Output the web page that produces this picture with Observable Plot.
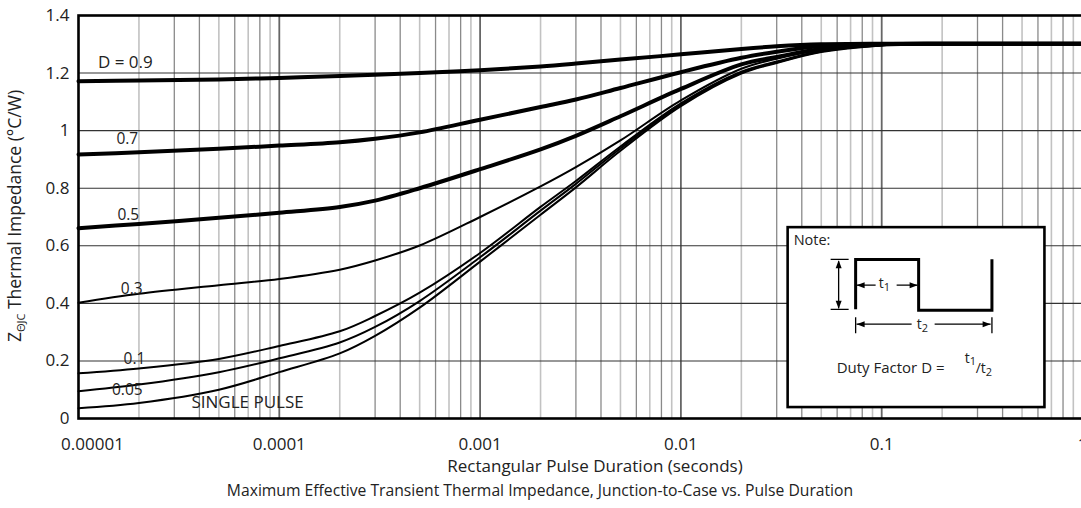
<!DOCTYPE html>
<html>
<head>
<meta charset="utf-8">
<script src="https://cdn.jsdelivr.net/npm/d3@7"></script>
<script src="https://cdn.jsdelivr.net/npm/@observablehq/plot@0.6"></script>
<style>
  html, body { margin: 0; padding: 0; background: #fff; overflow: hidden; }
  #chart svg { display: block; max-width: none !important; width: 1084px; height: 508px !important; }
</style>
</head>
<body>
<div id="chart"></div>
<script>
// ---- Data ----
const durations = [1e-5, 2e-5, 5e-5, 1e-4, 2e-4, 3e-4, 5e-4, 1e-3, 2e-3, 3e-3, 5e-3, 1e-2, 2e-2, 3e-2, 5e-2, 0.1, 0.2, 0.5, 1];

const seriesNames = ["D = 0.9", "0.7", "0.5", "0.3", "0.1", "0.05", "SINGLE PULSE"];
const thickSeries = ["D = 0.9", "0.7", "0.5"];

const zD09    = [1.172, 1.174, 1.178, 1.183, 1.190, 1.194, 1.200, 1.210, 1.223, 1.233, 1.247, 1.265, 1.284, 1.293, 1.300, 1.302, 1.302, 1.302, 1.302];
const zD07    = [0.917, 0.925, 0.937, 0.948, 0.960, 0.972, 0.994, 1.038, 1.082, 1.108, 1.148, 1.203, 1.253, 1.274, 1.294, 1.301, 1.302, 1.302, 1.302];
const zD05    = [0.661, 0.676, 0.697, 0.715, 0.735, 0.757, 0.800, 0.866, 0.935, 0.982, 1.050, 1.145, 1.230, 1.256, 1.284, 1.299, 1.302, 1.302, 1.302];
const zD03    = [0.402, 0.433, 0.463, 0.485, 0.517, 0.549, 0.601, 0.700, 0.806, 0.873, 0.966, 1.105, 1.215, 1.250, 1.280, 1.297, 1.302, 1.302, 1.302];
const zD01    = [0.157, 0.174, 0.207, 0.252, 0.303, 0.356, 0.437, 0.575, 0.735, 0.825, 0.945, 1.095, 1.205, 1.240, 1.277, 1.298, 1.302, 1.302, 1.302];
const zD005   = [0.095, 0.118, 0.161, 0.209, 0.264, 0.318, 0.408, 0.560, 0.722, 0.815, 0.938, 1.090, 1.201, 1.237, 1.275, 1.297, 1.302, 1.302, 1.302];
const zSingle = [0.036, 0.054, 0.100, 0.161, 0.226, 0.287, 0.385, 0.545, 0.708, 0.803, 0.930, 1.085, 1.198, 1.235, 1.273, 1.296, 1.302, 1.302, 1.302];
const seriesValues = [zD09, zD07, zD05, zD03, zD01, zD005, zSingle];

// curve label anchor points (data units: seconds, °C/W)
const labelX = [1.71e-5, 1.75e-5, 1.77e-5, 1.84e-5, 1.90e-5, 1.75e-5, 6.95e-5];
const labelY = [1.216, 0.955, 0.691, 0.431, 0.191, 0.083, 0.035];

// axes ticks
const xTickValues = [1e-5, 1e-4, 1e-3, 1e-2, 1e-1, 1];
const xTickLabels = ["0.00001", "0.0001", "0.001", "0.01", "0.1", "1"];
const yTickValues = [0, 0.2, 0.4, 0.6, 0.8, 1.0, 1.2, 1.4];
const yTickLabels = ["0", "0.2", "0.4", "0.6", "0.8", "1", "1.2", "1.4"];

// log grid: multiples within each decade
const decades = [1e-5, 1e-4, 1e-3, 1e-2, 1e-1];
const lightMult = [2, 5, 7, 9];
const darkMult = [3, 4, 6, 8];

const xLabelText = "Rectangular Pulse Duration (seconds)";
const captionText = "Maximum Effective Transient Thermal Impedance, Junction-to-Case vs. Pulse Duration";

// note box extent in data units
const noteBoxX = [0.0342, 0.650];
const noteBoxY = [0.038, 0.663];

// ---- Build tables ----
const rows = seriesNames.flatMap((s, i) => durations.map((t, j) => ({series: s, t, z: seriesValues[i][j]})));
const labels = seriesNames.map((s, i) => ({text: s, x: labelX[i], y: labelY[i]}));
const gridLight = decades.flatMap(d => lightMult.map(m => d * m));
const gridDark = decades.flatMap(d => darkMult.map(m => d * m));
const gridMajor = decades.slice(1);

const FONT = "'Open Sans', 'DejaVu Sans', sans-serif";
const TXT = "#222";
const fmtX = d => xTickLabels[xTickValues.indexOf(d)];

const plot = Plot.plot({
  width: 1084,
  height: 508,
  marginLeft: 78,
  marginRight: 2,
  marginTop: 15,
  marginBottom: 90,
  style: {fontFamily: FONT, fontSize: "17px", background: "#fff", color: TXT},
  x: {type: "log", domain: [1e-5, 1], label: null},
  y: {domain: [0, 1.4], label: null},
  marks: [
    Plot.ruleX(gridLight, {stroke: "#c2c2c2", strokeWidth: 1.6}),
    Plot.ruleX(gridDark, {stroke: "#8a8a8a", strokeWidth: 1.3}),
    Plot.ruleX(gridMajor, {stroke: "#666", strokeWidth: 1.8}),
    Plot.ruleY(yTickValues, {stroke: "#333", strokeWidth: 1.1}),
    Plot.line(rows.filter(r => !thickSeries.includes(r.series)), {x: "t", y: "z", z: "series", stroke: "#000", strokeWidth: 2, curve: "catmull-rom"}),
    Plot.line(rows.filter(r => thickSeries.includes(r.series)), {x: "t", y: "z", z: "series", stroke: "#000", strokeWidth: 4, curve: "catmull-rom"}),
    Plot.text(labels, {x: "x", y: "y", text: "text", lineAnchor: "bottom", textAnchor: "middle", fill: TXT,
      fontSize: (d) => d.text === "D = 0.9" ? 17 : (d.text === "SINGLE PULSE" ? 17 : 15.5)}),
    Plot.axisX(xTickValues.slice(0, 1), {tickSize: 0, tickPadding: 19, dx: 14, tickFormat: fmtX, fontSize: 17, fill: TXT}),
    Plot.axisX(xTickValues.slice(1), {tickSize: 0, tickPadding: 19, tickFormat: fmtX, fontSize: 17, fill: TXT}),
    Plot.axisY(yTickValues, {tickSize: 0, tickPadding: 9, tickFormat: d => yTickLabels[yTickValues.indexOf(d)], fontSize: 17, fill: TXT}),
    Plot.frame({stroke: "#000", strokeWidth: 2.6})
  ]
});

document.getElementById("chart").appendChild(plot);

// ---- Extra annotations drawn with the plot's own scales ----
const xs = plot.scale("x"), ys = plot.scale("y");
const svg = d3.select(plot);

// y-axis title with subscript
const yl = svg.append("text")
  .attr("transform", "translate(21,216) rotate(-90)")
  .attr("text-anchor", "middle")
  .attr("fill", TXT)
  .style("font-family", FONT)
  .style("font-size", "17.5px");
yl.append("tspan").text("Z");
yl.append("tspan").attr("dy", 4).style("font-size", "11px").text("ΘJC");
yl.append("tspan").attr("dy", -4).text(" Thermal Impedance (°C/W)");

// x-axis title & caption
svg.append("text").attr("x", 595).attr("y", 472).attr("text-anchor", "middle").attr("fill", TXT)
  .style("font-family", FONT).style("font-size", "17px").text(xLabelText);
svg.append("text").attr("x", 540).attr("y", 496).attr("text-anchor", "middle").attr("fill", TXT)
  .style("font-family", FONT).style("font-size", "15.7px").text(captionText);

// Note box
const bx = xs.apply(noteBoxX[0]), bx2 = xs.apply(noteBoxX[1]);
const by = ys.apply(noteBoxY[1]), by2 = ys.apply(noteBoxY[0]);
const g = svg.append("g").attr("transform", `translate(${bx},${by})`).attr("text-anchor", "start");
g.append("rect").attr("x", 0).attr("y", 0).attr("width", bx2 - bx).attr("height", by2 - by)
  .attr("fill", "#fff").attr("stroke", "#000").attr("stroke-width", 2.6);
g.append("text").attr("x", 6).attr("y", 18).attr("fill", TXT).attr("text-anchor", "start")
  .style("font-family", FONT).style("font-size", "14.5px").text("Note:");
// waveform
g.append("path").attr("d", "M68,82 V32.3 H131 V83 H204.3 V32").attr("fill", "none")
  .attr("stroke", "#000").attr("stroke-width", 3);
function seg(d) { g.append("path").attr("d", d).attr("stroke", "#000").attr("stroke-width", 1.3).attr("fill", "none"); }
function head(d) { g.append("path").attr("d", d).attr("fill", "#000"); }
// height arrow
seg("M43,32.3 H61 M43,82.3 H61 M51,34 V81");
head("M51,33 L48,41 L54,41 Z");
head("M51,81.5 L48,73.5 L54,73.5 Z");
// t1 arrow
seg("M69,58 H88 M109,58 H130");
head("M69,58 L77,55 L77,61 Z");
head("M130,58 L122,55 L122,61 Z");
const t1 = g.append("text").attr("x", 91).attr("y", 61).attr("text-anchor", "start").attr("fill", TXT)
  .style("font-family", FONT).style("font-size", "14px");
t1.append("tspan").text("t");
t1.append("tspan").attr("dy", 3).style("font-size", "11px").text("1");
// t2 arrow
seg("M68,90 V106 M204.3,90 V106 M69,97 H124 M147,97 H203");
head("M69,97 L77,94 L77,100 Z");
head("M203,97 L195,94 L195,100 Z");
const t2 = g.append("text").attr("x", 129).attr("y", 102).attr("text-anchor", "start").attr("fill", TXT)
  .style("font-family", FONT).style("font-size", "14px");
t2.append("tspan").text("t");
t2.append("tspan").attr("dy", 3).style("font-size", "11px").text("2");
// duty factor
g.append("text").attr("x", 49).attr("y", 146).attr("fill", TXT).attr("text-anchor", "start")
  .style("font-family", FONT).style("font-size", "15px").text("Duty Factor D =");
const df = g.append("text").attr("fill", TXT).attr("text-anchor", "start").style("font-family", FONT).style("font-size", "14px");
df.append("tspan").attr("x", 177).attr("y", 136).text("t");
df.append("tspan").attr("dy", 2).style("font-size", "11px").text("1");
df.append("tspan").attr("x", 188).attr("y", 146).text("/t");
df.append("tspan").attr("dy", 3).style("font-size", "11px").text("2");
</script>
</body>
</html>
